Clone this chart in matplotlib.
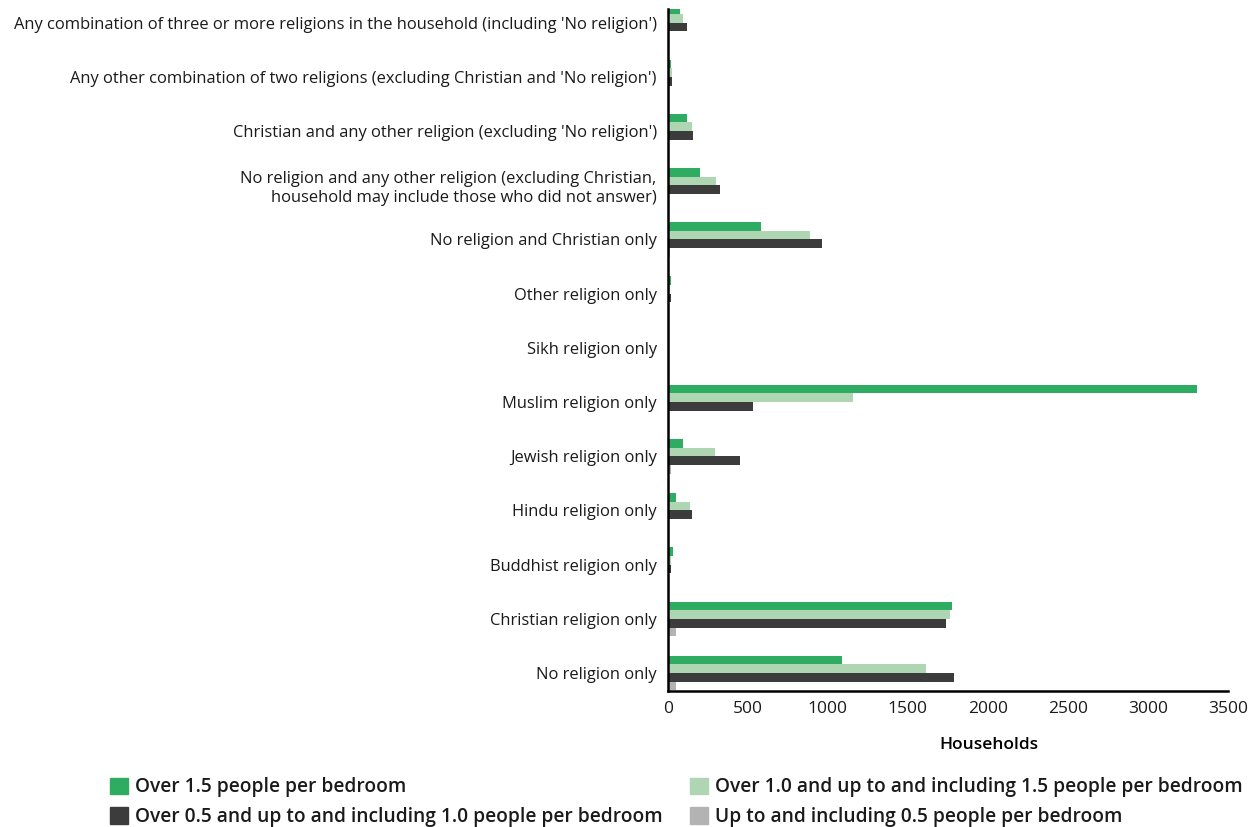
import numpy as np
import matplotlib
matplotlib.use("Agg")
import matplotlib.pyplot as plt
from matplotlib.patches import Patch

plt.rcParams['font.family'] = ['Open Sans', 'DejaVu Sans']

categorias = ["No religion only",
              "Christian religion only",
              "Buddhist religion only",
              "Hindu religion only",
              "Jewish religion only",
              "Muslim religion only",
              "Sikh religion only",
              "Other religion only",
              "No religion and Christian only",
              "No religion and any other religion (excluding Christian,\nhousehold may include those who did not answer)",
              "Christian and any other religion (excluding 'No religion')",
              "Any other combination of two religions (excluding Christian and 'No religion')",
              "Any combination of three or more religions in the household (including 'No religion')"]

series = ["Over 1.5 people per bedroom",
          "Over 1.0 and up to and including 1.5 people per bedroom",
          "Over 0.5 and up to and including 1.0 people per bedroom",
          "Up to and including 0.5 people per bedroom"]

over15 = [1090, 1776, 31, 50, 98, 3306, 2, 23, 583, 204, 123, 17, 75]
over10 = [1616, 1761, 23, 137, 296, 1154, 1, 12, 889, 302, 152, 27, 94]
over05 = [1791, 1739, 17, 152, 448, 535, 1, 19, 964, 325, 158, 25, 117]
upto05 = [54, 54, 0, 0, 23, 0, 0, 0, 12, 0, 0, 0, 0]

colores = ['#2EAD62', '#AED6B2', '#3C3C3C', '#B3B3B3']

fig = plt.figure(figsize=(12.6, 8.27), dpi=100)
ax = fig.add_axes([0.530, 0.1645, 0.4446, 0.8245])

y = np.arange(len(categorias))
h = 0.16
offsets = [1.5, 0.5, -0.5, -1.5]
for vals, col, off in zip([over15, over10, over05, upto05], colores, offsets):
    ax.barh(y + off * h, vals, height=h, color=col)

ax.set_yticks(y)
ax.set_yticklabels(categorias, fontsize=11.9, color='#1a1a1a')
ax.set_ylim(-0.33, 12.25)
ax.set_xlim(0, 3500)
ax.set_xticks(np.arange(0, 3501, 500))
ax.tick_params(axis='x', length=0, labelsize=12.5, colors='#1a1a1a', pad=7)
ax.tick_params(axis='y', length=0, pad=8)
for s in ['top', 'right']:
    ax.spines[s].set_visible(False)
for s in ['left', 'bottom']:
    ax.spines[s].set_linewidth(1.8)
    ax.spines[s].set_color('black')
ax.set_xlabel("Households", fontsize=12.5, fontweight='semibold')
ax.xaxis.set_label_coords(0.573, -0.068)

handles = [Patch(color=c) for c in colores]
# dos leyendas para fijar la posicion de cada columna
pos_x = [110 / 1260, 690 / 1260]
for k, idx in enumerate([[0, 2], [1, 3]]):
    leg = fig.legend([handles[i] for i in idx], [series[i] for i in idx],
                     loc='lower left', bbox_to_anchor=(pos_x[k], 0.0),
                     frameon=False, fontsize=13.8, handlelength=0.95, handleheight=0.95,
                     handletextpad=0.35, labelspacing=0.5, borderpad=0, borderaxespad=0)
    for t in leg.get_texts():
        t.set_fontweight('semibold')
        t.set_color('#1a1a1a')

fig.savefig("out.png", dpi=100)
